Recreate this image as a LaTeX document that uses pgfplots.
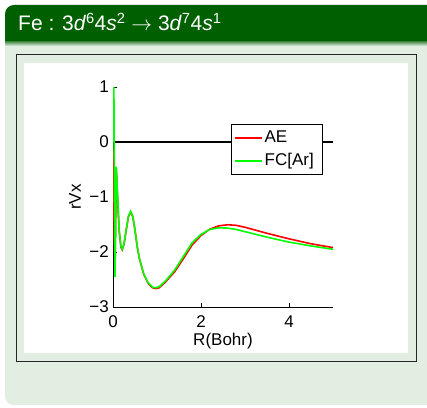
\documentclass[border=0pt]{standalone}
\usepackage{pgfplots}
\pgfplotsset{compat=1.18}
\usepackage{fontspec}
\setmainfont{Liberation Sans}
\definecolor{titlegreen}{RGB}{0,96,0}
\definecolor{bodygreen}{RGB}{227,238,227}
\newcommand{\lfont}{\fontsize{17}{17}\selectfont}
\begin{document}
\begin{tikzpicture}[x=1pt,y=1pt]
\clip (0,0) rectangle (427,407);
\fill[white] (0,0) rectangle (427,407);
% block body
\fill[bodygreen, rounded corners=9pt] (5,2) rectangle (440,402);
% title bar
\fill[titlegreen, rounded corners=9pt] (5,365) rectangle (440,402);
\fill[titlegreen] (5,365) rectangle (440,380);
\shade[top color=titlegreen!60!bodygreen, bottom color=bodygreen] (5,361) rectangle (440,365);
\node[anchor=base west, inner sep=0pt, text=white, font=\fontsize{21}{21}\selectfont] at (18,376)
  {Fe : 3\textit{d}\textsuperscript{6}4\textit{s}\textsuperscript{2} $\rightarrow$ 3\textit{d}\textsuperscript{7}4\textit{s}\textsuperscript{1}};
% figure frame
\draw[black!85, line width=1pt] (16,46) rectangle (416,352);
\fill[white] (24,54) rectangle (408,344);
\begin{axis}[
  at={(113pt,100pt)}, anchor=south west,
  width=220pt, height=220pt, scale only axis,
  xmin=0, xmax=5, ymin=-3, ymax=1,
  axis x line*=bottom, axis y line*=left,
  axis line style={black, line width=1pt, -},
  xtick={0,2,4}, xticklabels={0,2,4},
  ytick={-3,-2,-1,0,1}, yticklabels={−3,−2,−1,0,1},
  tick align=inside, major tick length=4pt,
  tick style={black, line width=0.8pt},
  tick label style={font=\lfont},
  xticklabel style={anchor=base, inner sep=0pt, yshift=-20pt},
  yticklabel style={anchor=east, inner sep=0pt, xshift=-4pt},
  xlabel={R(Bohr)}, ylabel={rVx},
  label style={font=\lfont},
  xlabel style={at={(axis description cs:0.5,0)}, anchor=base, inner sep=0pt, yshift=-38.7pt},
  ylabel style={at={(axis description cs:0,0.5)}, anchor=center, inner sep=0pt, yshift=38pt},
  legend style={at={(0.536,0.832)}, anchor=north west, draw=black, line width=0.8pt, fill=white,
    font=\lfont, inner xsep=3pt, inner ysep=4pt, row sep=3.5pt,
    nodes={inner sep=2pt, text height=12pt, text depth=3.5pt}},
  legend cell align=left,
  legend image code/.code={\draw[#1, line width=1.3pt] (0pt,0pt) -- (27pt,0pt);},
]
\addplot[black, line width=1.2pt, forget plot] coordinates {(0,0) (5,0)};
\addplot[red, line width=1.6pt] coordinates {
(0,-0.15) (0.015,-0.9) (0.03,-1.8) (0.045,-2.4) (0.075,-0.5) (0.10,-0.95) (0.14,-1.62)
(0.18,-1.91) (0.21,-1.96) (0.25,-1.86) (0.30,-1.6) (0.35,-1.36) (0.40,-1.27) (0.45,-1.36)
(0.50,-1.6) (0.55,-1.9) (0.60,-2.12) (0.70,-2.41) (0.80,-2.57) (0.90,-2.65) (0.97,-2.665)
(1.05,-2.65) (1.2,-2.54) (1.4,-2.36) (1.6,-2.12) (1.8,-1.87) (2.0,-1.7) (2.2,-1.585)
(2.4,-1.525) (2.6,-1.505) (2.8,-1.515) (3.0,-1.55) (3.5,-1.66) (4.0,-1.76) (4.5,-1.85) (5.0,-1.92)};
\addlegendentry{AE}
\addplot[green, line width=1.6pt] coordinates {
(0,0) (0.02,1.0) (0.045,-2.45) (0.075,-0.45) (0.10,-0.9) (0.14,-1.6)
(0.18,-1.9) (0.21,-1.95) (0.25,-1.85) (0.30,-1.6) (0.35,-1.35) (0.40,-1.26) (0.45,-1.35)
(0.50,-1.6) (0.55,-1.9) (0.60,-2.12) (0.70,-2.40) (0.80,-2.56) (0.90,-2.64) (0.97,-2.65)
(1.05,-2.63) (1.2,-2.52) (1.4,-2.33) (1.6,-2.08) (1.8,-1.83) (2.0,-1.68) (2.2,-1.59)
(2.4,-1.56) (2.6,-1.565) (2.8,-1.59) (3.0,-1.63) (3.5,-1.73) (4.0,-1.82) (4.5,-1.89) (5.0,-1.95)};
\addlegendentry{FC[Ar]\hspace*{4pt}}
\end{axis}
\end{tikzpicture}
\end{document}
